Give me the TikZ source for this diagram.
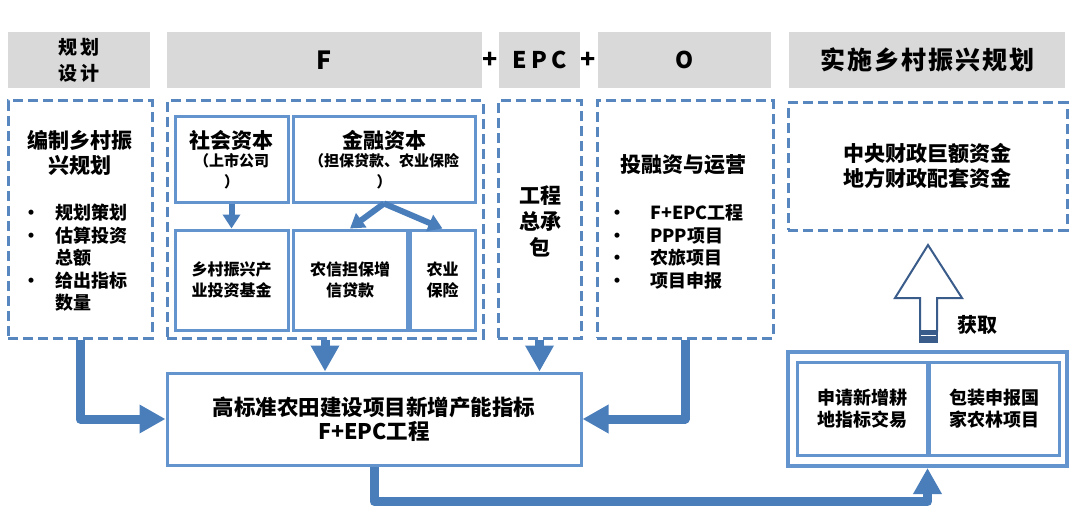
\documentclass[tikz,border=0pt]{standalone}
\usepackage{fontspec}
\setmainfont{Noto Sans CJK SC}[BoldFont={Noto Sans CJK SC Black}]
\usepackage{tikz}
\usetikzlibrary{arrows.meta,positioning,calc}
\definecolor{hdrgray}{RGB}{217,217,217}
\definecolor{arrblue}{RGB}{74,126,187}
\definecolor{boxblue}{RGB}{100,148,206}
\definecolor{dashblue}{RGB}{88,134,190}
\definecolor{navyblue}{RGB}{58,92,138}
\newcommand{\blt}[1]{\makebox[#1][l]{\textbullet}}
\newcommand{\fs}[2]{\fontsize{#1}{#2}\selectfont}

\begin{document}
\begin{tikzpicture}[x=1pt, y=-1pt,
    hdr/.style={fill=hdrgray, inner sep=0pt, align=center, minimum height=56pt, font=\bfseries\fs{19}{26}},
    dbox/.style={draw=dashblue, line width=3pt, dash pattern=on 10pt off 5pt, inner sep=0pt, minimum height=237pt},
    sbox/.style={draw=boxblue, line width=3pt, inner sep=0pt, align=center, font=\bfseries\fs{16}{21}},
    txt/.style={inner sep=0pt, align=center, font=\bfseries\fs{21}{25}},
    lst/.style={inner sep=0pt, align=left, anchor=west, font=\bfseries\fs{18}{22.5}},
    bigarr/.style={draw=arrblue, line width=9pt, line join=round, -{Triangle[length=26pt,width=27pt]}},
    smallarr/.style={draw=arrblue, line width=6pt, -{Triangle[length=14pt,width=17pt]}}]
    \fill[white] (0,0) rectangle (1080,527);
    \useasboundingbox (0,0) rectangle (1080,527);

    % header row
    \node[hdr, minimum width=142pt] (hA) at (79,60) {\addfontfeature{LetterSpace=15}规划\\\addfontfeature{LetterSpace=15}设计};
    \node[hdr, minimum width=315pt, font=\bfseries\fs{25}{30}] (hF) at (324.5,60) {F};
    \node[txt, font=\bfseries\fs{25}{28}] (p1) at (490,60) {+};
    \node[hdr, minimum width=81pt, font=\bfseries\fs{23}{28}] (hE) at (539.5,60) {\addfontfeature{LetterSpace=18}EPC};
    \node[txt, font=\bfseries\fs{25}{28}] (p2) at (588,60) {+};
    \node[hdr, minimum width=173pt, font=\bfseries\fs{23}{28}] (hO) at (684.5,60) {O};
    \node[hdr, minimum width=276pt, font=\bfseries\fs{25}{30}] (hR) at (927,60) {\addfontfeature{LetterSpace=8}实施乡村振兴规划};

    % dashed columns
    \node[dbox, minimum width=144pt] (dA) at (80,219.5) {};
    \node[dbox, minimum width=316pt] (dF) at (325,219.5) {};
    \node[dbox, minimum width=83pt] (dE) at (539.5,219.5) {};
    \node[dbox, minimum width=176pt] (dO) at (685,219.5) {};
    \node[dbox, minimum width=279pt, minimum height=127pt] (dR) at (927.5,166.5) {};

    \node[txt] (tA) at (80,152.5) {编制乡村振\\兴规划};
    \node[lst] (lA) at (22,258) {\blt{33pt}规划策划\\\blt{33pt}估算投资\\\hspace*{33pt}总额\\\blt{33pt}给出指标\\\hspace*{33pt}数量};

    \node[sbox, minimum width=113pt, minimum height=85pt] (sh) at (231.5,159.5)
        {{\fs{21}{24}社会资本}\\[-3pt]{\fs{15}{20}（上市公司}\\{\fs{15}{20}）}};
    \node[sbox, minimum width=182pt, minimum height=85pt] (jr) at (384,159.5)
        {{\fs{21}{24}金融资本}\\[-3pt]{\fs{15}{20}（担保贷款、农业保险}\\{\fs{15}{20}）}};
    \node[sbox, minimum width=113pt, minimum height=100pt] (jj) at (231.5,280) {乡村振兴产\\业投资基金};
    \node[sbox, minimum width=114pt, minimum height=100pt] (xd) at (350,280) {农信担保增\\信贷款};
    \node[sbox, minimum width=65pt, minimum height=100pt] (bx) at (442.5,280) {农业\\保险};
    \draw[smallarr] (sh.south) -- (jj.north);
    \draw[smallarr] (jr.south) -- (xd.north);
    \draw[smallarr] (jr.south) -- (bx.north);

    \node[txt, font=\bfseries\fs{21}{26}] (tE) at (540,221) {工程\\总承\\包};
    \node[txt] (tO) at (683,165) {投融资与运营};
    \node[lst] (lO) at (608,247) {\blt{42pt}F+EPC工程\\\blt{42pt}PPP项目\\\blt{42pt}农旅项目\\\blt{42pt}项目申报};

    \node[txt] (tR) at (927.5,166) {中央财政巨额资金\\地方财政配套资金};

    % hollow arrow up to funds
    \draw[navyblue, line width=2pt, fill=white, line join=miter]
        (920,331) -- (920,298) -- (895,298) -- (928,245) -- (962,298) -- (937,298) -- (937,331) -- cycle;
    \fill[navyblue] (919,330) rectangle (938,343);
    \draw[white, line width=1pt] (921,335.5) -- (936,335.5);
    \node[txt, font=\bfseries\fs{20}{24}] (hq) at (977,325) {获取};

    % bottom right
    \node[sbox, line width=4pt, minimum width=279pt, minimum height=114pt] (sq) at (927.5,409) {};
    \node[sbox, font=\bfseries\fs{18}{22}, minimum width=130pt, minimum height=93pt] (s1) at (862,408.5) {申请新增耕\\地指标交易};
    \node[sbox, font=\bfseries\fs{18}{22}, minimum width=130pt, minimum height=93pt] (s2) at (994,408.5) {包装申报国\\家农林项目};

    % main box
    \node[sbox, minimum width=414pt, minimum height=92pt, font=\bfseries\fs{21.5}{24}] (gb) at (374,419)
        {高标准农田建设项目新增产能指标\\F+EPC工程};

    \draw[bigarr] (dA.south) |- (gb.west);
    \draw[bigarr] (dF.south) -- (dF.south |- gb.north);
    \draw[bigarr] (dE.south) -- (dE.south |- gb.north);
    \draw[bigarr] (dO.south) |- (gb.east);
    \draw[bigarr] (gb.south) -- ++(0,35) -| (sq.south);
\end{tikzpicture}
\end{document}
